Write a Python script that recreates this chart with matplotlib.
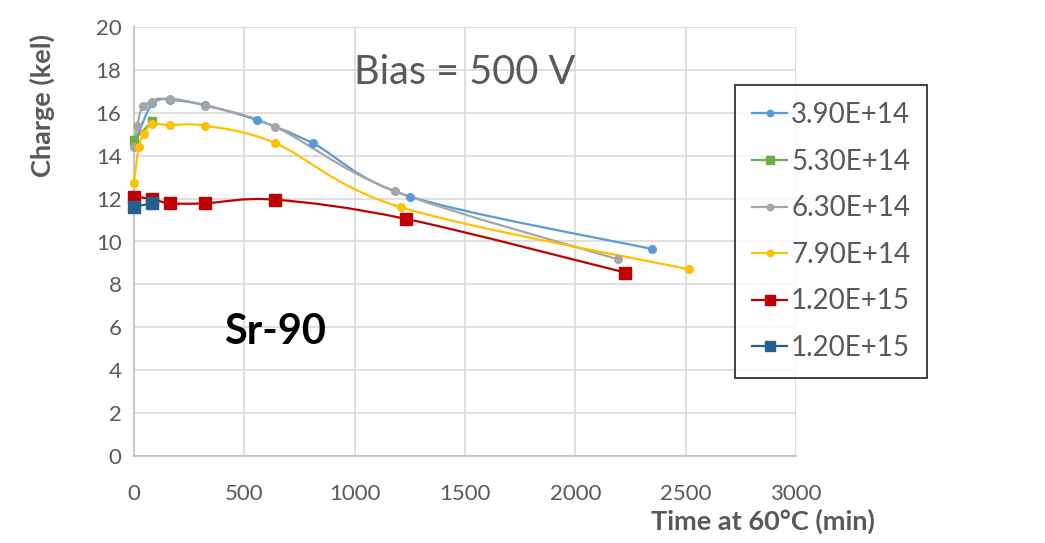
import numpy as np
import matplotlib
matplotlib.use("Agg")
import matplotlib.pyplot as plt
from matplotlib.path import Path
from matplotlib.patches import PathPatch
from matplotlib.lines import Line2D

plt.rcParams['font.family'] = ['Lato', 'DejaVu Sans']

# data
t_390 = [0, 83, 163, 321, 556, 810, 1252, 2347]
q_390 = [14.5, 16.45, 16.6, 16.36, 15.66, 14.58, 12.09, 9.65]

t_530 = [0, 83]
q_530 = [14.75, 15.6]

t_630 = [0, 15, 39, 83, 163, 321, 639, 1182, 2194]
q_630 = [14.42, 15.4, 16.3, 16.49, 16.66, 16.34, 15.35, 12.35, 9.17]

t_790 = [0, 22, 45, 83, 163, 321, 639, 1211, 2515]
q_790 = [12.74, 14.42, 15.0, 15.46, 15.43, 15.4, 14.59, 11.59, 8.70]

t_120 = [0, 83, 163, 321, 639, 1234, 2227]
q_120 = [12.09, 11.98, 11.78, 11.78, 11.95, 11.05, 8.55]

t_120b = [0, 83]
q_120b = [11.62, 11.78]

series = [
    (t_390, q_390, "3.90E+14", "#5B9BD5", "o", 5.5),
    (t_530, q_530, "5.30E+14", "#70AD47", "s", 6),
    (t_630, q_630, "6.30E+14", "#A5A5A5", "o", 5.5),
    (t_790, q_790, "7.90E+14", "#FFC000", "o", 5.5),
    (t_120, q_120, "1.20E+15", "#C00000", "s", 8.5),
    (t_120b, q_120b, "1.20E+15", "#255E91", "s", 8.5),
]


def smooth_path(x, y):
    # Excel-like smoothed line: Catmull-Rom turned into cubic Bezier segments
    p = np.column_stack([x, y]).astype(float)
    verts = [p[0]]
    codes = [Path.MOVETO]
    n = len(p)
    for i in range(n - 1):
        p0 = p[i - 1] if i > 0 else p[i]
        p1 = p[i]
        p2 = p[i + 1]
        p3 = p[i + 2] if i + 2 < n else p[i + 1]
        c1 = p1 + (p2 - p0) / 6.0
        c2 = p2 - (p3 - p1) / 6.0
        verts += [c1, c2, p2]
        codes += [Path.CURVE4] * 3
    return Path(verts, codes)


fig = plt.figure(figsize=(10.45, 5.43), dpi=100)
ax = fig.add_axes([134 / 1045, 87 / 543, 662 / 1045, 429 / 543])

handles = []
for x, y, lab, col, mk, ms in series:
    ax.add_patch(PathPatch(smooth_path(x, y), facecolor="none", edgecolor=col, lw=1.6, zorder=3,
                           clip_on=False))
    ax.plot(x, y, ls="none", marker=mk, ms=ms, color=col, zorder=4, clip_on=False)
    handles.append(Line2D([], [], color=col, lw=1.6, marker=mk, ms=ms * 0.85, label=lab))

ax.set_xlim(0, 3000)
ax.set_ylim(0, 20)
ax.set_xticks(np.arange(0, 3001, 500))
ax.set_yticks(np.arange(0, 21, 2))
ax.grid(True, color="#D9D9D9", lw=1.2)
ax.set_axisbelow(True)
for s in ["top", "right"]:
    ax.spines[s].set_visible(False)
for s in ["left", "bottom"]:
    ax.spines[s].set_color("#BFBFBF")
    ax.spines[s].set_linewidth(1.2)
ax.tick_params(length=0, labelsize=16, colors="#595959")
ax.tick_params(axis="x", pad=20)
ax.tick_params(axis="y", pad=9)

fig.text(42 / 1045, 1 - 106 / 543, "Charge (kel)", rotation=90, fontsize=19.5, fontweight="bold",
         color="#595959", ha="center", va="center")
fig.text(763 / 1045, 1 - 521 / 543, "Time at 60°C (min)", fontsize=19.5, fontweight="bold",
         color="#595959", ha="center", va="center")

ax.text(1500, 17.9, "Bias = 500 V", fontsize=28.5, color="#595959", ha="center", va="center")
ax.text(639, 5.8, "Sr-90", fontsize=30, fontweight="bold", color="black", ha="center", va="center")

leg = fig.legend(handles=handles, loc="upper left", bbox_to_anchor=(735 / 1045, 1 - 85 / 543),
                 fontsize=20, frameon=True, fancybox=False, handlelength=1.25, handletextpad=0.15,
                 labelspacing=0.74, borderpad=0.62, borderaxespad=0)
leg.get_frame().set_edgecolor("black")
leg.get_frame().set_linewidth(1.3)
for t in leg.get_texts():
    t.set_color("#595959")

fig.savefig("out.png", dpi=100)
